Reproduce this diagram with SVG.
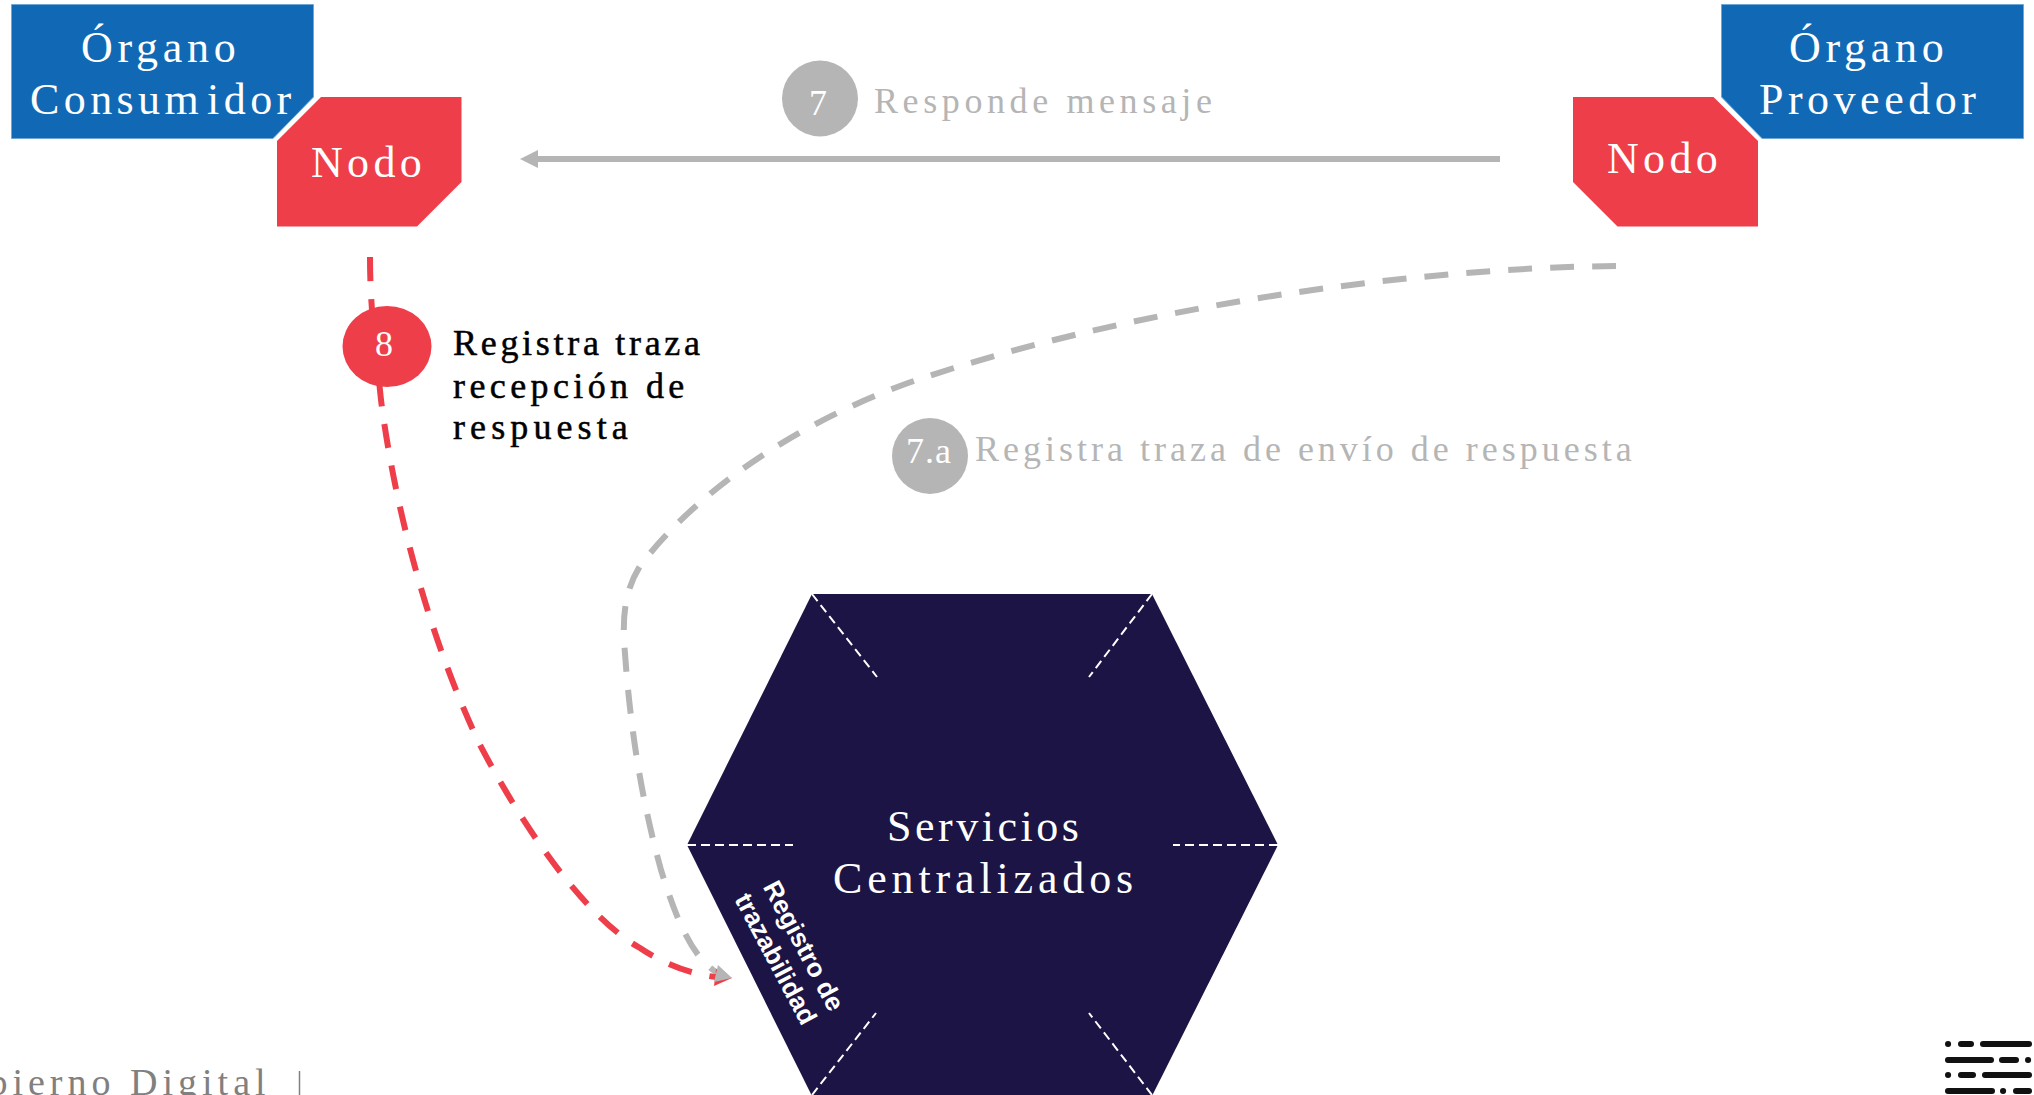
<svg xmlns="http://www.w3.org/2000/svg" width="2034" height="1095" viewBox="0 0 2034 1095">
<style>
text{font-family:"Liberation Serif","Times New Roman",serif;font-size:44px;letter-spacing:4.7px}
.w{fill:#fff}
.m{font-size:36px;letter-spacing:4.6px}
.g{fill:#b5b5b5}
.k{fill:#000;stroke:#000;stroke-width:.5px;font-size:36px;letter-spacing:3.7px}
.n{fill:#fff;font-size:36px;letter-spacing:0;text-anchor:middle}
.s{font-family:"Liberation Sans",Arial,sans-serif;font-size:26px;font-weight:bold;letter-spacing:0;text-anchor:middle}
.blue{fill:#1169b5;stroke:#6ea6d6;stroke-width:1}
.red{fill:#ee3e4a}
.dw{fill:none;stroke:#fff;stroke-width:2;stroke-dasharray:9 5}
.cg{fill:none;stroke:#b5b5b5;stroke-width:6}
.cr{fill:none;stroke:#ee3e4a;stroke-width:6}
.dash{stroke-dasharray:24 18}
.logo line{stroke:#111;stroke-width:6;stroke-linecap:round}
</style>
<defs>
<marker id="ag" markerUnits="userSpaceOnUse" markerWidth="20" markerHeight="20" refX="8" refY="9" orient="auto"><path d="M0 0L18 9L0 18Z" fill="#b5b5b5"/></marker>
</defs>
<rect width="2034" height="1095" fill="#fff"/>
<g id="servicios">
<path d="M812 594H1152L1278 845L1152 1096H812L687 845Z" fill="#1b1444"/>
<path class="dw" d="M687 845H793"/><path class="dw" d="M1278 845H1173"/>
<path class="dw" d="M812 594L877 677"/><path class="dw" d="M1152 594L1089 677"/>
<path class="dw" d="M812 1095L876 1013"/><path class="dw" d="M1152 1095L1089 1013"/>
<text class="w" x="887" y="841" style="letter-spacing:3.5px">Servicios</text>
<text class="w" x="833" y="893" style="letter-spacing:4.85px">Centralizados</text>
<text class="w s" transform="translate(796 950) rotate(62)">Registro de</text>
<text class="w s" transform="translate(768 963) rotate(62)">trazabilidad</text>
</g>
<g id="connectors">
<path class="cg" d="M1500 159H530" marker-end="url(#ag)"/>
<path class="cg dash" d="M1616 266C1400 268 1120 310 908 383C780 430 690 500 640 566C625 590 623 615 624 640C628 700 636 780 661 870C675 915 690 955 716 972"/>
<path class="cr dash" d="M370 257C370 310 376 350 381 400C395 510 430 640 480 745C530 840 590 920 640 948C665 965 695 975 716 977"/>
<path d="M732 978L714 986L716 969Z" fill="#ee3e4a"/>
<path d="M732 978L714 982L718 965Z" fill="#b5b5b5"/>
</g>
<g id="organo-consumidor">
<path class="blue" d="M11.5 4.5H313.5V97L273 138.5H11.5Z"/>
<text class="w" x="81" y="62">Órgano</text>
<text class="w" x="30" y="114" style="letter-spacing:4.4px">Consum<tspan dx="4">idor</tspan></text>
</g>
<g id="nodo-consumidor">
<path class="red" d="M321 97H461.5V182L417 226.5H277V141Z"/>
<text class="w" x="311" y="177" style="letter-spacing:4.3px">Nodo</text>
</g>
<g id="organo-proveedor">
<path class="blue" d="M1721.5 4.5H2023.5V138.5H1762L1721.5 97Z"/>
<text class="w" x="1789" y="62">Órgano</text>
<text class="w" x="1759" y="114" style="letter-spacing:4.5px">Proveedor</text>
</g>
<g id="nodo-proveedor">
<path class="red" d="M1573 97H1713.5L1758 141V226.5H1617.5L1573 182Z"/>
<text class="w" x="1607" y="173" style="letter-spacing:4.3px">Nodo</text>
</g>
<g id="paso-7">
<circle cx="820" cy="98.5" r="38" fill="#b5b5b5"/>
<text class="n" x="818" y="115">7</text>
<text class="m g" x="874" y="113">Responde mensaje</text>
</g>
<g id="paso-8">
<ellipse cx="387" cy="346.5" rx="44.5" ry="40.5" fill="#ee3e4a"/>
<text class="n" x="384" y="356">8</text>
<text class="k" x="453" y="355">Registra traza</text>
<text class="k" x="453" y="398" style="letter-spacing:4.4px">recepción de</text>
<text class="k" x="453" y="439" style="letter-spacing:5.1px">respuesta</text>
</g>
<g id="paso-7a">
<circle cx="930" cy="456" r="38" fill="#b5b5b5"/>
<text class="n" x="929" y="463" style="letter-spacing:1px">7.a</text>
<text class="m g" x="975" y="461" style="letter-spacing:4px">Registra traza de envío de respuesta</text>
</g>
<g id="pie">
<text x="-68" y="1095" fill="#808080" style="font-size:38px;letter-spacing:5px">Gobierno Digital</text>
<path d="M299.5 1071V1095" stroke="#808080" stroke-width="1.5"/>
</g>
<g id="logo" class="logo">
<line x1="1948" y1="1044" x2="1948.1" y2="1044"/><line x1="1961" y1="1044" x2="1971" y2="1044"/><line x1="1983" y1="1044" x2="2029" y2="1044"/>
<line x1="1948" y1="1060" x2="1991" y2="1060"/><line x1="2002" y1="1060" x2="2016" y2="1060"/><line x1="2028" y1="1060" x2="2028.1" y2="1060"/>
<line x1="1948" y1="1075" x2="1948.1" y2="1075"/><line x1="1961" y1="1075" x2="1973" y2="1075"/><line x1="1985" y1="1075" x2="2029" y2="1075"/>
<line x1="1948" y1="1091" x2="1992" y2="1091"/><line x1="2003" y1="1091" x2="2003.1" y2="1091"/><line x1="2016" y1="1091" x2="2029" y2="1091"/>
</g>
</svg>
